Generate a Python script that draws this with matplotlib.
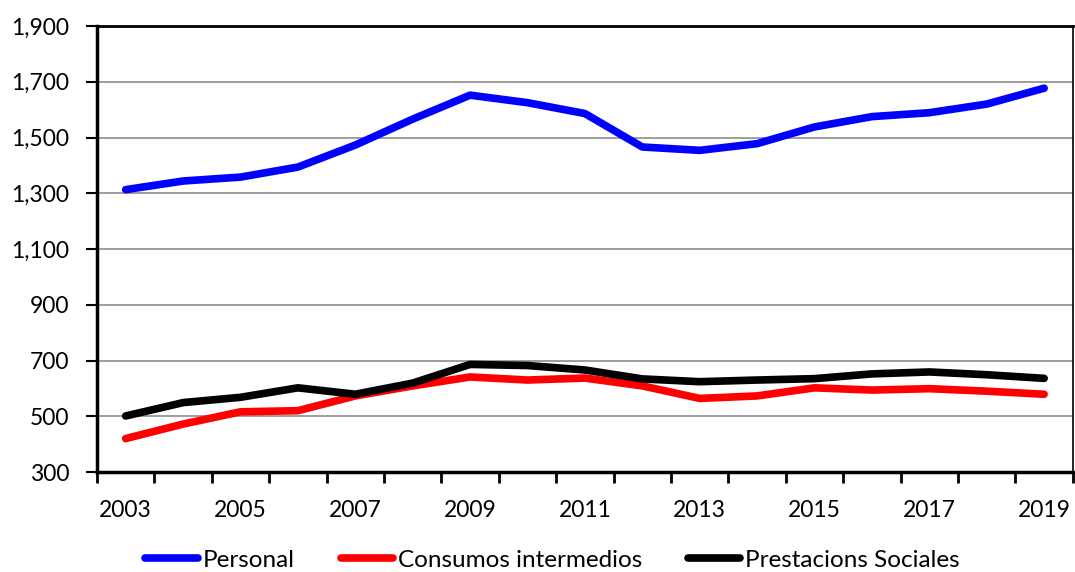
import numpy as np
import matplotlib
matplotlib.use("Agg")
import matplotlib.pyplot as plt
from matplotlib.ticker import FuncFormatter

plt.rcParams["font.family"] = ["Lato", "DejaVu Sans"]

years = list(range(2003, 2020))
personal = [1313, 1344, 1358, 1394, 1473, 1566, 1652, 1625, 1586, 1466, 1454,
            1478, 1538, 1575, 1589, 1620, 1677]
consumos = [420, 472, 516, 520, 573, 609, 641, 630, 637, 609, 564,
            573, 602, 594, 599, 590, 579]
prestaciones = [501, 549, 568, 602, 579, 619, 686, 682, 666, 634, 624,
                630, 635, 652, 659, 649, 636]

series_labels = ["Personal", "Consumos intermedios", "Prestacions Sociales"]
series_colors = ["#0000ff", "#ff0000", "#000000"]

g_fontsize = 16.5
g_fontsize_legend = 17.5

fig = plt.figure(figsize=(10.75, 5.72), dpi=100)
ax = fig.add_axes([0.0902, 0.1748, 0.9078, 0.7797])

x = np.arange(len(years))
for vals, lab, col in zip([personal, consumos, prestaciones], series_labels, series_colors):
    ax.plot(x, vals, color=col, lw=5.5, label=lab, solid_capstyle="round",
            solid_joinstyle="round", zorder=3)

ax.set_xlim(-0.5, len(years) - 0.5)
ax.set_ylim(300, 1900)
ax.set_yticks(np.arange(300, 1901, 200))
ax.yaxis.set_major_formatter(FuncFormatter(lambda v, p: "{:,.0f}".format(v)))
ax.grid(axis="y", color="#8c8c8c", lw=1.2, zorder=0)

# category boundaries as major ticks, labels on every second year
ax.set_xticks(np.arange(-0.5, len(years), 1.0))
ax.set_xticklabels([])
ax.set_xticks(x[::2], minor=True)
ax.set_xticklabels([str(y) for y in years[::2]], minor=True)
ax.tick_params(axis="x", which="major", direction="out", length=8, width=2)
ax.tick_params(axis="x", which="minor", length=0, pad=20, labelsize=g_fontsize)
ax.tick_params(axis="y", direction="out", length=8, width=1.5, pad=12, labelsize=g_fontsize)

for s in ["left", "bottom"]:
    ax.spines[s].set_linewidth(2.5)
ax.spines["top"].set_linewidth(2)
ax.spines["right"].set_linewidth(1.2)

fig.legend(loc="lower center", bbox_to_anchor=(0.514, -0.036), ncol=3, frameon=False,
           fontsize=g_fontsize_legend, handlelength=2.15, handletextpad=0.2, columnspacing=1.9)

plt.savefig("out.png", dpi=100)
